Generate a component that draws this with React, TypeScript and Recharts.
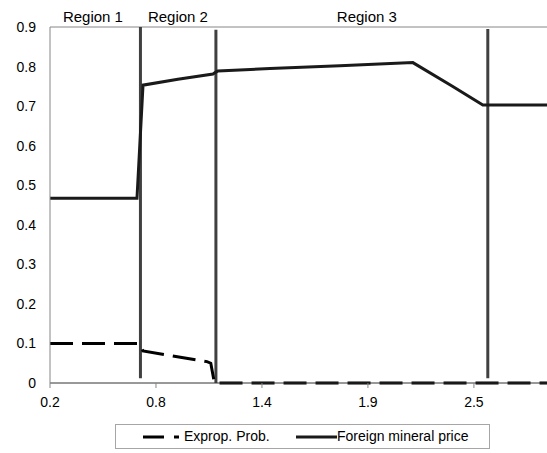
import { LineChart, Line, XAxis, YAxis, Legend, ReferenceLine } from 'recharts';

const priceX = [0.2, 0.676, 0.709, 0.9, 1.092, 1.108, 1.119, 1.404, 1.786, 2.186, 2.4, 2.569, 2.92];
const priceY = [0.467, 0.467, 0.753, 0.768, 0.781, 0.786, 0.789, 0.795, 0.802, 0.81, 0.751, 0.703, 0.703];

const expropX = [0.2, 0.69, 0.709, 1.059, 1.08, 1.1, 2.92];
const expropY = [0.1, 0.1, 0.081, 0.054, 0.05, 0, 0];

const xTicks = [0.2, 0.78, 1.36, 1.94, 2.52];
const yTicks = [0, 0.1, 0.2, 0.3, 0.4, 0.5, 0.6, 0.7, 0.8, 0.9];

const regionLabels = ['Region 1', 'Region 2', 'Region 3'];
const regionCenters = [0.435, 0.9, 1.934];

// boundaries between regions: x, bottom y, top y
const boundaryX = [0.695, 1.108, 2.596];
const boundaryBottom = [0.012, 0, 0.012];
const boundaryTop = [0.9, 0.893, 0.895];

const priceData = priceX.map((x, i) => ({ x, price: priceY[i] }));
const expropData = expropX.map((x, i) => ({ x, exprop: expropY[i] }));

const font = "Arial, 'Liberation Sans', sans-serif";

function RegionLabel(props: any) {
  const { x, y, payload } = props;
  const i = regionCenters.indexOf(payload.value);
  return (
    <text x={x} y={y} textAnchor="middle" fontSize={15} fill="#000">
      {regionLabels[i]}
    </text>
  );
}

export default function App() {
  return (
    <div style={wrap}>
      <LineChart width={547} height={453} margin={{ top: 0, right: 0, left: 0, bottom: 0 }}>
        <XAxis
          xAxisId="top"
          orientation="top"
          type="number"
          dataKey="x"
          domain={[0.2, 2.92]}
          allowDataOverflow
          ticks={regionCenters}
          interval={0}
          axisLine={false}
          tickLine={false}
          tickSize={0}
          tickMargin={5}
          height={27}
          tick={<RegionLabel />}
        />
        <XAxis
          type="number"
          dataKey="x"
          domain={[0.2, 2.92]}
          ticks={xTicks}
          interval={0}
          tickFormatter={(v) => v.toFixed(1)}
          stroke="#333"
          tickLine={{ stroke: '#868686' }}
          tickSize={5}
          tickMargin={9}
          height={30}
          tick={{ fontSize: 14, fill: '#000' }}
        />
        <YAxis
          type="number"
          domain={[0, 0.9]}
          ticks={yTicks}
          interval={0}
          tickFormatter={(v) => String(+v.toFixed(1))}
          stroke="#868686"
          tickLine={false}
          tickMargin={8}
          width={50}
          tick={{ fontSize: 14, fill: '#000' }}
        />
        <ReferenceLine y={0.9} stroke="#868686" strokeWidth={1} />
        {boundaryX.map((x, i) => (
          <ReferenceLine
            key={i}
            segment={[{ x, y: boundaryBottom[i] }, { x, y: boundaryTop[i] }]}
            stroke="#404040"
            strokeWidth={3}
          />
        ))}
        <Line
          data={expropData}
          dataKey="exprop"
          name="Exprop. Prob."
          type="linear"
          stroke="#000"
          strokeWidth={3}
          strokeDasharray="23 9"
          dot={false}
          activeDot={false}
          isAnimationActive={false}
        />
        <Line
          data={priceData}
          dataKey="price"
          name="Foreign mineral price"
          type="linear"
          stroke="#1a1a1a"
          strokeWidth={3}
          dot={false}
          activeDot={false}
          isAnimationActive={false}
        />
        <Line
          xAxisId="top"
          data={priceData}
          dataKey="price"
          legendType="none"
          stroke="none"
          dot={false}
          activeDot={false}
          isAnimationActive={false}
        />
        <Legend
          verticalAlign="bottom"
          wrapperStyle={{ left: 0, bottom: 0, width: 547, height: 40 }}
          content={() => <LegendBox />}
        />
      </LineChart>
    </div>
  );
}

function LegendBox() {
  return (
    <div style={{ position: 'relative', width: 547, height: 40 }}>
      <div style={legendBox}>
        <svg style={{ position: 'absolute', left: 27, top: 10 }} width={36} height={4}>
          <line x1={0} y1={2} x2={36} y2={2} stroke="#000" strokeWidth={3} strokeDasharray="21 10" />
        </svg>
        <span style={{ ...legendText, left: 68 }}>Exprop. Prob.</span>
        <svg style={{ position: 'absolute', left: 180, top: 10 }} width={41} height={4}>
          <line x1={0} y1={2} x2={41} y2={2} stroke="#1a1a1a" strokeWidth={3} />
        </svg>
        <span style={{ ...legendText, left: 221 }}>Foreign mineral price</span>
      </div>
    </div>
  );
}

const wrap = {
  position: 'absolute' as const,
  left: 0,
  top: 0,
  width: 547,
  height: 453,
  background: '#fff',
  fontFamily: font
};

const legendBox = {
  position: 'absolute' as const,
  left: 115,
  top: 11,
  width: 375,
  height: 25,
  border: '1px solid #a6a6a6',
  boxSizing: 'border-box' as const
};

const legendText = {
  position: 'absolute' as const,
  top: 3,
  fontSize: 14,
  lineHeight: '16px',
  color: '#000',
  whiteSpace: 'nowrap' as const
};
